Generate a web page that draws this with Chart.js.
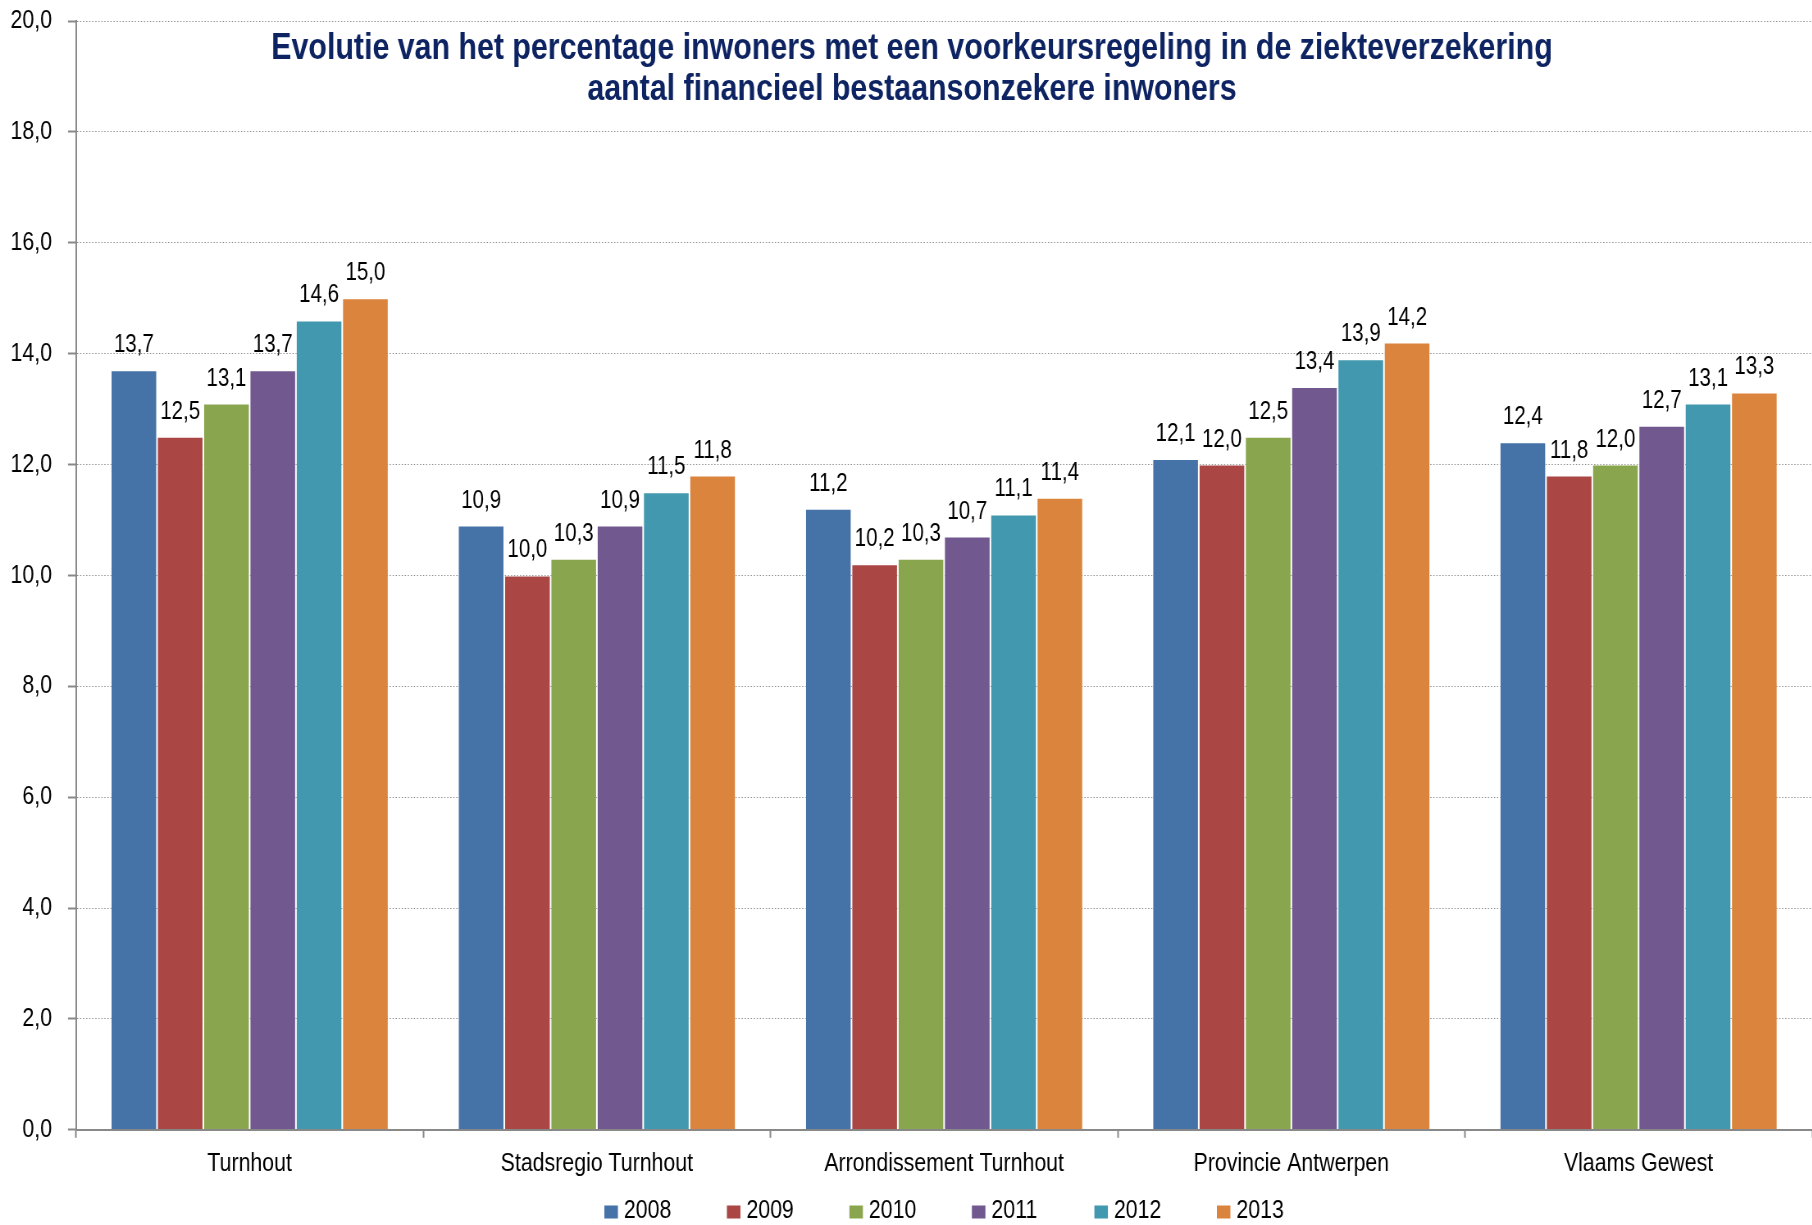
<!DOCTYPE html>
<html>
<head>
<meta charset="utf-8">
<script src="https://cdn.jsdelivr.net/npm/chart.js@4.4.1/dist/chart.umd.min.js"></script>
<style>
  html, body { margin: 0; padding: 0; background: #fff; overflow: hidden; }
  /* no narrow font installed: draw wide, then squeeze horizontally like Arial Narrow */
  #wrap { width: 2210px; height: 1225px; transform: scaleX(0.82); transform-origin: 0 0; }
</style>
</head>
<body>
<div id="wrap"><canvas id="chart"></canvas></div>
<script>
var categories = ['Turnhout', 'Stadsregio Turnhout', 'Arrondissement Turnhout', 'Provincie Antwerpen', 'Vlaams Gewest'];
var years = ['2008', '2009', '2010', '2011', '2012', '2013'];
var colors = ['#4572A7', '#AA4643', '#89A54E', '#71588F', '#4198AF', '#DB843D'];

var v2008 = [13.7, 10.9, 11.2, 12.1, 12.4];
var v2009 = [12.5, 10.0, 10.2, 12.0, 11.8];
var v2010 = [13.1, 10.3, 10.3, 12.5, 12.0];
var v2011 = [13.7, 10.9, 10.7, 13.4, 12.7];
var v2012 = [14.6, 11.5, 11.1, 13.9, 13.1];
var v2013 = [15.0, 11.8, 11.4, 14.2, 13.3];
var series = [v2008, v2009, v2010, v2011, v2012, v2013];

var yTicks = [0, 2, 4, 6, 8, 10, 12, 14, 16, 18, 20];

var titleLines = [
  'Evolutie van het percentage inwoners met een voorkeursregeling in de ziekteverzekering',
  'aantal financieel bestaansonzekere inwoners'
];

var SQ = 0.82; // horizontal squeeze
var FONT = "'Liberation Sans', Arial, sans-serif";

function fmt(v) {
  return v.toFixed(1).replace('.', ',');
}

// value labels above each bar
var barLabels = {
  id: 'barLabels',
  afterDatasetsDraw: function (chart) {
    var ctx = chart.ctx;
    ctx.save();
    ctx.font = '25px ' + FONT;
    ctx.fillStyle = '#000';
    ctx.textAlign = 'center';
    ctx.textBaseline = 'alphabetic';
    chart.data.datasets.forEach(function (ds, i) {
      chart.getDatasetMeta(i).data.forEach(function (bar, j) {
        ctx.fillText(fmt(ds.data[j]), bar.x, bar.y - 18);
      });
    });
    ctx.restore();
  }
};

// title over the plot area + legend row at the bottom
var extras = {
  id: 'extras',
  afterDraw: function (chart) {
    var ctx = chart.ctx;
    var area = chart.chartArea;
    ctx.save();
    ctx.font = 'bold 37px ' + FONT;
    ctx.fillStyle = '#0E2462';
    ctx.textAlign = 'center';
    ctx.textBaseline = 'alphabetic';
    ctx.fillText(titleLines[0], 912 / SQ, 59);
    ctx.fillText(titleLines[1], 912 / SQ, 100);

    ctx.font = '26px ' + FONT;
    ctx.textAlign = 'left';
    ctx.textBaseline = 'middle';
    var box = 13.5 / SQ, gap = 6 / SQ, step = 122.5 / SQ;
    var last = box + gap + ctx.measureText(years[years.length - 1]).width;
    var total = step * (years.length - 1) + last;
    var x0 = (area.left + area.right) / 2 - total / 2;
    var y = 1211;
    years.forEach(function (yr, i) {
      var x = x0 + i * step;
      ctx.fillStyle = colors[i];
      ctx.fillRect(x, y - 5.5, box, 13);
      ctx.fillStyle = '#000';
      ctx.fillText(yr, x + box + gap, y);
    });
    ctx.restore();
  }
};

var ctx = document.getElementById('chart').getContext('2d');
new Chart(ctx, {
  type: 'bar',
  data: {
    labels: categories,
    datasets: series.map(function (data, i) {
      return {
        label: years[i],
        data: data,
        backgroundColor: colors[i],
        borderColor: 'rgba(255,255,255,0.35)',
        borderWidth: 1,
        barPercentage: 1.0,
        categoryPercentage: 0.8
      };
    })
  },
  options: {
    responsive: true,
    maintainAspectRatio: false,
    animation: false,
    layout: { padding: { top: 0, right: 0, left: 0, bottom: 36 } },
    plugins: {
      title: { display: false },
      tooltip: { enabled: false },
      legend: { display: false }
    },
    scales: {
      x: {
        offset: true,
        grid: {
          offset: true,
          drawOnChartArea: false,
          drawTicks: true,
          tickLength: 8,
          tickColor: '#898989',
          tickWidth: 2
        },
        border: { color: '#898989', width: 2 },
        ticks: { color: '#000', font: { family: FONT, size: 26 }, padding: 10 }
      },
      y: {
        min: 0,
        max: 20,
        afterFit: function (s) {
          s.width = 76 / SQ;
          s.paddingTop = 21;
          s.paddingBottom = 0;
        },
        afterBuildTicks: function (s) {
          s.ticks = yTicks.map(function (v) { return { value: v }; });
        },
        grid: {
          color: '#8c8c8c',
          lineWidth: 1,
          drawTicks: true,
          tickLength: 8 / SQ,
          tickColor: '#898989',
          tickWidth: 2,
          tickBorderDash: []
        },
        border: { color: '#898989', width: 2, dash: [1.5, 2.2] },
        ticks: {
          color: '#000',
          font: { family: FONT, size: 26 },
          padding: 16 / SQ,
          callback: function (v) { return fmt(v); }
        }
      }
    }
  },
  plugins: [barLabels, extras]
});
</script>
</body>
</html>
